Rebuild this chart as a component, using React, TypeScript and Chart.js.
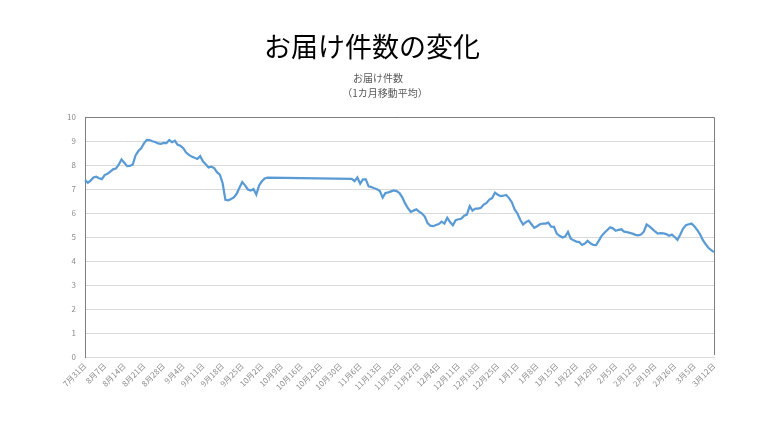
import React, { useEffect, useRef } from "react";
import { Chart, registerables } from "chart.js";

Chart.register(...registerables);

const chartTitle = "お届け件数の変化";
const seriesName = "お届け件数";
const seriesNote = "（1カ月移動平均）";

const startDate = { year: 2016, month: 7, day: 31 };

const weekLabels = [
  "7月31日", "8月7日", "8月14日", "8月21日", "8月28日", "9月4日", "9月11日", "9月18日",
  "9月25日", "10月2日", "10月9日", "10月16日", "10月23日", "10月30日", "11月6日", "11月13日",
  "11月20日", "11月27日", "12月4日", "12月11日", "12月18日", "12月25日", "1月1日", "1月8日",
  "1月15日", "1月22日", "1月29日", "2月5日", "2月12日", "2月19日", "2月26日", "3月5日", "3月12日",
];

// daily values (days without data are null)
const valuesAug = [
  7.37, 7.26, 7.35, 7.48, 7.51, 7.45, 7.41, 7.58, 7.63, 7.72,
  7.82, 7.85, 8.01, 8.23, 8.09, 7.95, 7.96, 8.02, 8.40, 8.58,
  8.70, 8.90, 9.05, 9.04, 8.99, 8.96, 8.90, 8.88, 8.92, 8.91,
  9.04, 8.95, 9.01, 8.84, 8.80, 8.70, 8.52, 8.42, 8.35, 8.30,
];
const valuesSep = [
  8.25, 8.37, 8.15, 8.03, 7.90, 7.93, 7.87, 7.70, 7.60, 7.25,
  6.55, 6.53, 6.58, 6.65, 6.80, 7.05, 7.29, 7.15, 6.98, 6.94,
  7.00, 6.77, 7.15, 7.32, 7.44, 7.47,
];
const valuesGap = [
  null, null, null, null, null, null, null, null, null, null,
  null, null, null, null, null, null, null, null, null, null,
  null, null, null, null, null, null, null, null, null,
];
const valuesNov = [
  7.42, 7.33, 7.48, 7.22, 7.40, 7.40, 7.11, 7.08, 7.03, 6.99,
  6.92, 6.64, 6.83, 6.86, 6.90, 6.94, 6.91, 6.83, 6.65, 6.40,
  6.20, 6.05, 6.10, 6.15, 6.06, 5.98, 5.85, 5.58, 5.47, 5.45,
  5.50, 5.54, 5.64, 5.56, 5.80, 5.62, 5.49, 5.70, 5.74, 5.76,
];
const valuesDec = [
  5.89, 5.93, 6.29, 6.10, 6.18, 6.18, 6.22, 6.35, 6.42, 6.56,
  6.62, 6.85, 6.76, 6.70, 6.72, 6.75, 6.62, 6.45, 6.15, 5.98,
  5.72, 5.52, 5.62, 5.68, 5.53, 5.38, 5.45, 5.53, 5.56, 5.56,
  5.60, 5.43, 5.42, 5.14, 5.05, 4.98, 5.02, 5.21, 4.93, 4.86,
];
const valuesFeb = [
  4.81, 4.79, 4.67, 4.73, 4.84, 4.74, 4.67, 4.66, 4.85, 5.05,
  5.18, 5.29, 5.40, 5.36, 5.26, 5.30, 5.32, 5.22, 5.20, 5.17,
  5.14, 5.09, 5.07, 5.10, 5.22, 5.52, 5.44, 5.34, 5.23, 5.14,
  5.16, 5.15, 5.12, 5.05, 5.10, 5.00, 4.88, 5.10, 5.35, 5.49,
  5.53, 5.56, 5.45, 5.30, 5.12, 4.88, 4.70, 4.55, 4.45, 4.37,
];

const values: (number | null)[] = [
  ...valuesAug, ...valuesSep, ...valuesGap, ...valuesNov, ...valuesDec, ...valuesFeb,
];

const FONT = "'Noto Sans CJK JP', 'Noto Sans', sans-serif";

function dayLabels(n: number): string[] {
  const out: string[] = [];
  for (let i = 0; i < n; i++) {
    const d = new Date(startDate.year, startDate.month - 1, startDate.day + i);
    out.push(`${d.getMonth() + 1}月${d.getDate()}日`);
  }
  return out;
}

const headerPlugin = {
  id: "header",
  beforeDraw(chart: any) {
    const { ctx } = chart;
    ctx.save();
    ctx.fillStyle = "#ffffff";
    ctx.fillRect(0, 0, chart.width, chart.height);
    ctx.textAlign = "center";
    ctx.textBaseline = "middle";
    ctx.fillStyle = "#000000";
    ctx.font = `27px ${FONT}`;
    ctx.fillText(chartTitle, 372, 47);
    ctx.fillStyle = "#595959";
    ctx.font = `10px ${FONT}`;
    ctx.fillText(seriesName, 378, 78);
    ctx.fillText(seriesNote, 385, 93);
    ctx.restore();
  },
  beforeDatasetsDraw(chart: any) {
    const { ctx, chartArea } = chart;
    ctx.save();
    ctx.strokeStyle = "#7f7f7f";
    ctx.lineWidth = 1;
    ctx.beginPath();
    ctx.moveTo(chartArea.left, chartArea.top + 0.5);
    ctx.lineTo(chartArea.right + 0.5, chartArea.top + 0.5);
    ctx.lineTo(chartArea.right + 0.5, chartArea.bottom - 2);
    ctx.stroke();
    ctx.restore();
  },
};

export default function App() {
  const ref = useRef<HTMLCanvasElement | null>(null);

  useEffect(() => {
    document.body.style.margin = "0";
    const canvas = ref.current;
    if (!canvas) return;
    const labels = dayLabels(values.length);
    const chart = new Chart(canvas, {
      type: "line",
      data: {
        labels,
        datasets: [
          {
            label: seriesName,
            data: values,
            borderColor: "#5B9BD5",
            backgroundColor: "#5B9BD5",
            borderWidth: 2.25,
            pointRadius: 0,
            tension: 0,
            spanGaps: true,
          },
        ],
      },
      options: {
        responsive: false,
        animation: false,
        layout: { padding: { top: 117, left: 0, right: 54, bottom: 0 } },
        plugins: {
          legend: { display: false },
          title: { display: false },
          tooltip: { enabled: false },
        },
        scales: {
          x: {
            type: "category",
            offset: false,
            afterFit(scale: any) {
              scale.height = 75;
            },
            grid: { display: false, drawTicks: false },
            border: { display: true, color: "#d9d9d9", width: 1 },
            ticks: {
              autoSkip: false,
              minRotation: 45,
              maxRotation: 45,
              padding: 4,
              color: "#8c8c8c",
              font: { family: FONT, size: 8 },
              callback: (_v: any, i: number) => (i % 7 === 0 ? weekLabels[i / 7] : null),
            },
          },
          y: {
            min: 0,
            max: 10,
            afterFit(scale: any) {
              scale.width = 85;
            },
            grid: { color: "#d9d9d9", drawTicks: false },
            border: { display: true, color: "#7f7f7f", width: 1 },
            ticks: {
              stepSize: 1,
              padding: 9,
              color: "#8c8c8c",
              font: { family: FONT, size: 8 },
            },
          },
        },
      },
      plugins: [headerPlugin],
    });
    return () => chart.destroy();
  }, []);

  return (
    <div style={{ width: 768, height: 432, position: "relative", background: "#fff" }}>
      <canvas ref={ref} width={768} height={432} style={{ display: "block" }} />
    </div>
  );
}
